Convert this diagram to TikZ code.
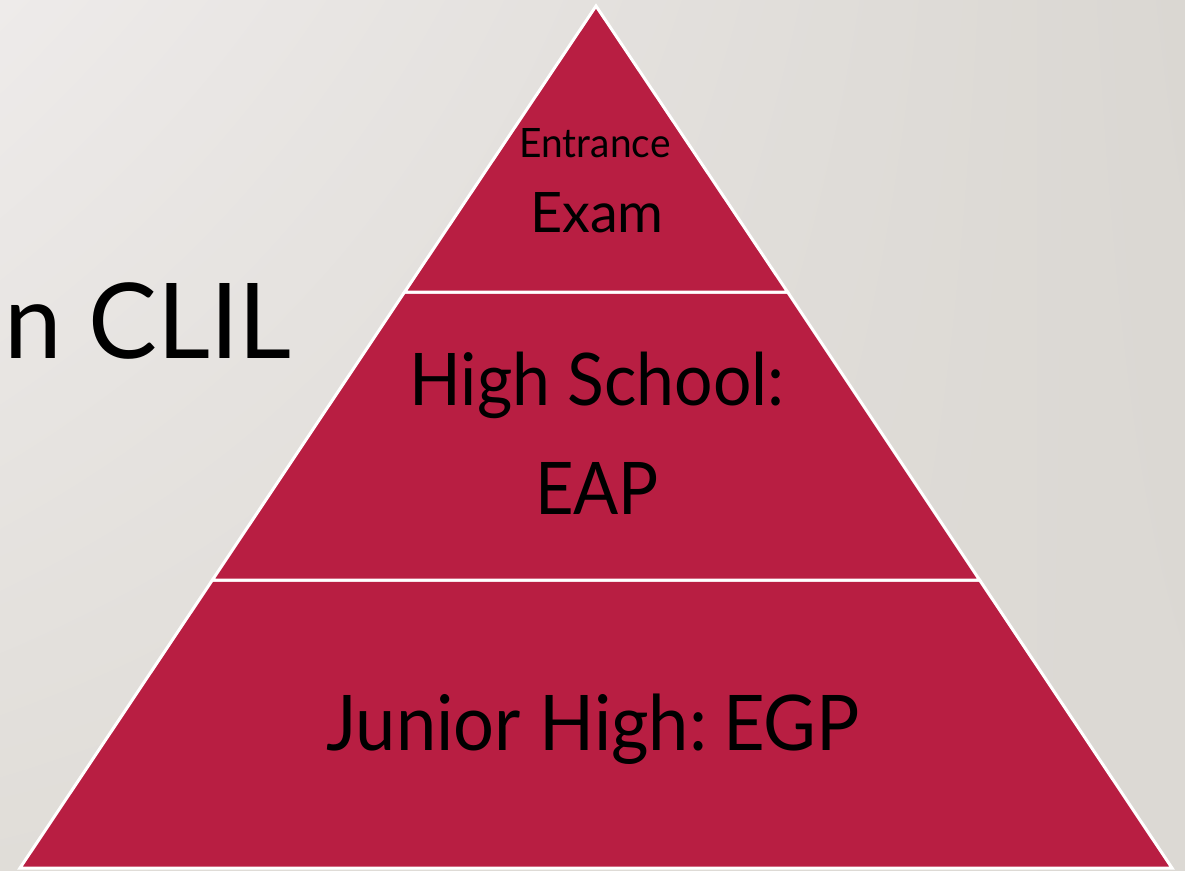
\documentclass[tikz,border=0pt]{standalone}
\usepackage{fontspec}
\usepackage{graphicx}
\setmainfont{Lato}
\usetikzlibrary{shadings}
\definecolor{tier}{HTML}{B81E42}
\definecolor{bgA}{HTML}{EEEBEA}
\definecolor{bgB}{HTML}{DAD7D2}
\definecolor{bgC}{HTML}{E0DDD8}
\definecolor{bgD}{HTML}{DCD9D4}
\begin{document}
\begin{tikzpicture}[x=1pt,y=-1pt,
  tierbox/.style={fill=tier,draw=white,line width=3pt,line join=miter},
  lbl/.style={anchor=base,inner sep=0pt,text=black}]
\useasboundingbox (0,0) rectangle (1185,870);
\shade[upper left=bgA, upper right=bgB, lower left=bgC, lower right=bgD] (0,0) rectangle (1185,870);
% pyramid corners
\coordinate (apex) at (596,6);
\coordinate (l1) at (404.6,292);
\coordinate (r1) at (787.6,292);
\coordinate (l2) at (212.4,580);
\coordinate (r2) at (979.6,580);
\coordinate (bl) at (20,868);
\coordinate (br) at (1172,868);
% tiers
\path[tierbox] (bl) -- (br) -- (r2) -- (l2) -- cycle;
\path[tierbox] (l2) -- (r2) -- (r1) -- (l1) -- cycle;
\path[tierbox] (l1) -- (r1) -- (apex) -- cycle;
% labels
\node[lbl, font=\fontsize{40.5}{48}\selectfont] (entr) at (595,157) {\scalebox{0.96}[1]{Entrance}};
\node[lbl, font=\fontsize{55.8}{66}\selectfont] (exam) at (597,232) {Exam};
\node[lbl, font=\fontsize{72.6}{86}\selectfont] (hs) at (597,405) {\scalebox{0.935}[1]{High School:}};
\node[lbl, font=\fontsize{72.6}{86}\selectfont] (eap) at (597,514) {\scalebox{0.92}[1]{EAP}};
\node[lbl, font=\fontsize{76.8}{90}\selectfont] (jh) at (593,750) {\scalebox{0.94}[1]{Junior High:\hspace{-0.12em} EGP}};
\node[lbl, anchor=base west, font=\fontsize{104.7}{124}\selectfont] (clil) at (4,358) {\scalebox{0.985}[1]{n CLIL}};
\end{tikzpicture}
\end{document}
